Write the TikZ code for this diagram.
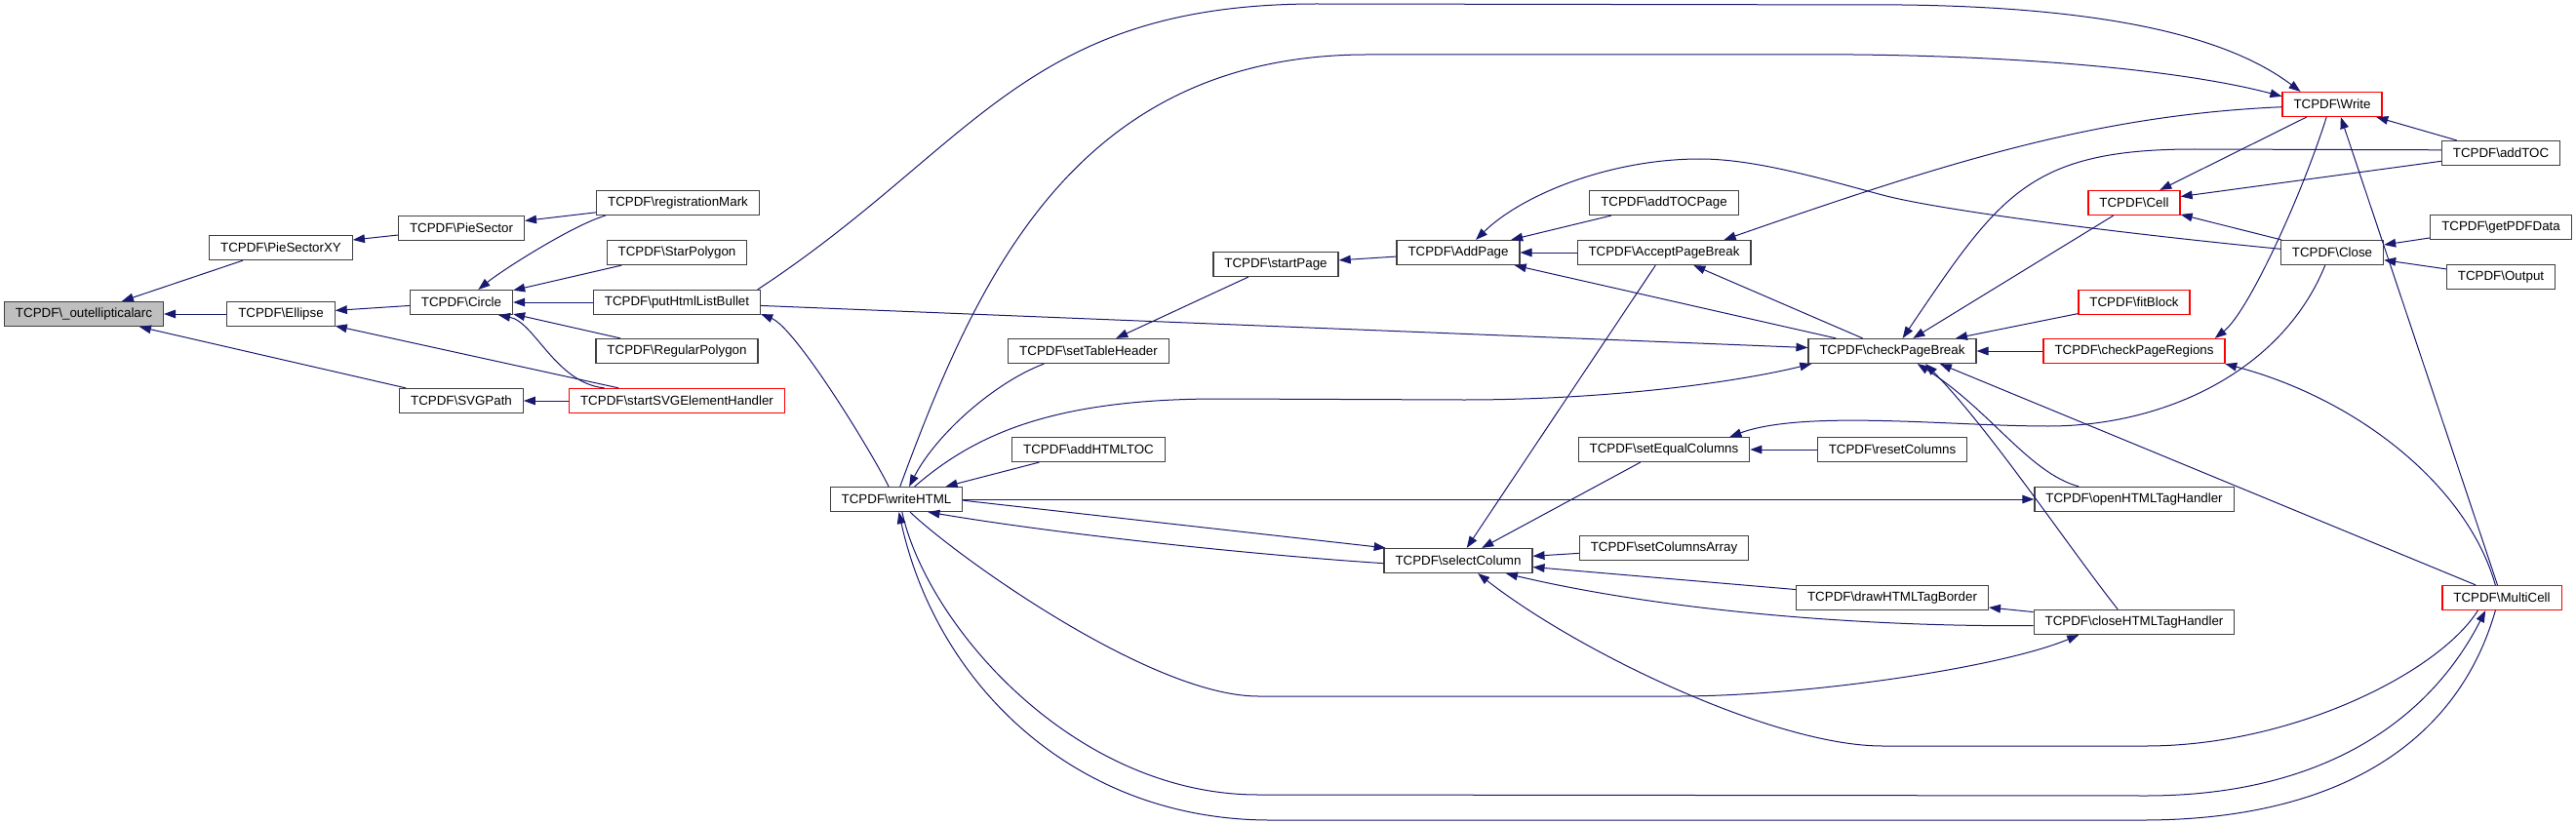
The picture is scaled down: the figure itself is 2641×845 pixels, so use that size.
\documentclass[tikz,border=0pt]{standalone}
\usepackage{fontspec}
\setmainfont{Liberation Sans}
\usepackage{xcolor}
\usetikzlibrary{arrows.meta}

\definecolor{edgeblue}{HTML}{191970}
\definecolor{boxgrey}{HTML}{404040}
\definecolor{rootfill}{HTML}{BFBFBF}
\definecolor{truncred}{HTML}{FF0000}
\newcommand{\tcpdf}{TCPDF\textbackslash}

\begin{document}
\begin{tikzpicture}[x=0.75pt,y=-0.75pt,
    fn/.style={draw=boxgrey, fill=white, line width=0.9pt,
      font=\fontsize{10pt}{12pt}\selectfont,
      inner xsep=8.6pt, inner ysep=0pt, minimum height=18.75pt},
    fnroot/.style={fn, fill=rootfill},
    fntrunc/.style={fn, draw=truncred},
    call/.style={draw=edgeblue, line width=0.75pt,
      -{Triangle[length=9pt,width=6.5pt]}}]
  \fill[white] (0,0) rectangle (2641,845);
  \useasboundingbox (0,0) rectangle (2641,845);

  % rank 0 -- 2
  \node[fnroot] (outell) at (86,322) {\tcpdf\_outellipticalarc};
  \node[fn] (PieSectorXY) at (288,254) {\tcpdf PieSectorXY};
  \node[fn] (Ellipse) at (288,322) {\tcpdf Ellipse};
  \node[fn] (PieSector) at (473,234) {\tcpdf PieSector};
  \node[fn] (Circle) at (473,310) {\tcpdf Circle};
  \node[fn] (SVGPath) at (473,411) {\tcpdf SVGPath};

  % rank 3
  \node[fn] (regMark) at (695,208) {\tcpdf registrationMark};
  \node[fn] (StarPoly) at (694,259) {\tcpdf StarPolygon};
  \node[fn] (putHtml) at (694,310) {\tcpdf putHtmlListBullet};
  \node[fn] (RegPoly) at (694,360) {\tcpdf RegularPolygon};
  \node[fntrunc] (startSVG) at (694,411) {\tcpdf startSVGElementHandler};

  % rank 4 -- 6
  \node[fn] (writeHTML) at (919,512) {\tcpdf writeHTML};
  \node[fn] (setTH) at (1116,360) {\tcpdf setTableHeader};
  \node[fn] (addHTMLTOC) at (1116,461) {\tcpdf addHTMLTOC};
  \node[fn] (startPage) at (1308,271) {\tcpdf startPage};
  \node[fn] (AddPage) at (1495,259) {\tcpdf AddPage};
  \node[fn] (selCol) at (1495,575) {\tcpdf selectColumn};

  % rank 7 -- 8
  \node[fn] (addTOCPage) at (1706,208) {\tcpdf addTOCPage};
  \node[fn] (APB) at (1706,259) {\tcpdf AcceptPageBreak};
  \node[fn] (setEqCol) at (1706,461) {\tcpdf setEqualColumns};
  \node[fn] (setColArr) at (1706,562) {\tcpdf setColumnsArray};
  \node[fn] (cPB) at (1940,360) {\tcpdf checkPageBreak};
  \node[fn] (resetCol) at (1940,461) {\tcpdf resetColumns};
  \node[fn] (drawHTB) at (1940,613) {\tcpdf drawHTMLTagBorder};

  % rank 9 -- 11
  \node[fntrunc] (Cell) at (2188,208) {\tcpdf Cell};
  \node[fntrunc] (fitBlock) at (2188,310) {\tcpdf fitBlock};
  \node[fntrunc] (cPR) at (2188,360) {\tcpdf checkPageRegions};
  \node[fn] (openHTH) at (2188,512) {\tcpdf openHTMLTagHandler};
  \node[fn] (closeHTH) at (2188,638) {\tcpdf closeHTMLTagHandler};
  \node[fntrunc] (Write) at (2391,107) {\tcpdf Write};
  \node[fn] (Close) at (2391,259) {\tcpdf Close};
  \node[fn] (addTOC) at (2564,157) {\tcpdf addTOC};
  \node[fn] (getPDFData) at (2564,233) {\tcpdf getPDFData};
  \node[fn] (Output) at (2564,284) {\tcpdf Output};
  \node[fntrunc] (MultiCell) at (2565,613) {\tcpdf MultiCell};

  % straight calls (caller/callee)
  \foreach \a/\b in {PieSectorXY/outell, Ellipse/outell, SVGPath/outell,
      PieSector/PieSectorXY, Circle/Ellipse, startSVG/Ellipse, startSVG/SVGPath,
      regMark/PieSector, StarPoly/Circle, putHtml/Circle, RegPoly/Circle,
      putHtml/cPB, addHTMLTOC/writeHTML, writeHTML/openHTH, startPage/setTH,
      AddPage/startPage, addTOCPage/AddPage, APB/AddPage, cPB/AddPage, cPB/APB,
      APB/selCol, setEqCol/selCol, setColArr/selCol, drawHTB/selCol,
      resetCol/setEqCol, Cell/cPB, fitBlock/cPB, cPR/cPB, Write/Cell,
      addTOC/Cell, Close/Cell, addTOC/Write, getPDFData/Close, Output/Close,
      closeHTH/drawHTB}
    \draw[call] (\a) -- (\b);

  % bent calls
  \draw[call] (startSVG.170) .. controls (570,393) and (548,330) .. (Circle.-19);
  \draw[call] (regMark.190) .. controls (587,231) and (515,277) .. (Circle.37);
  \draw[call] (writeHTML.121) .. controls (890,457) and (815,336) .. (putHtml.-8);
  \draw[call] (putHtml.9) .. controls (1000,150) and (1050,4) .. (1350,4)
    -- (1950,5) .. controls (2200,8) and (2300,50) .. (Write.158);
  \draw[call] (writeHTML.74) .. controls (1000,290) and (1100,57) .. (1400,56)
    -- (1900,56) .. controls (2100,58) and (2250,75) .. (Write.171);
  \draw[call] (setTH.196) .. controls (1020,392) and (960,445) .. (writeHTML.45);
  \draw[call] (writeHTML.35) .. controls (1000,445) and (1080,409) .. (1250,409)
    -- (1500,410) .. controls (1650,410) and (1780,392) .. (cPB.189);
  \draw[call] (writeHTML.-1) -- (selCol.170);
  \draw[call] (selCol.182) .. controls (1300,570) and (1100,550) .. (writeHTML.338);
  \draw[call] (writeHTML.317) .. controls (980,570) and (1180,714) .. (1290,714)
    -- (1720,714) .. controls (1850,714) and (2050,685) .. (closeHTH.193);
  \draw[call] (writeHTML.294) .. controls (950,640) and (1100,815) .. (1290,815)
    -- (2200,816) .. controls (2380,816) and (2490,740) .. (MultiCell.218);
  \draw[call] (MultiCell.243) .. controls (2520,760) and (2400,840) .. (2200,841)
    -- (1300,841) .. controls (1100,840) and (960,700) .. (writeHTML.281);
  \draw[call] (MultiCell.208) .. controls (2500,690) and (2350,765) .. (2200,765)
    -- (1930,765) .. controls (1820,765) and (1620,670) .. (selCol.327);
  \draw[call] (Close.176) .. controls (2180,240) and (1990,216) .. (1930,200)
    .. controls (1870,184) and (1800,163) .. (1743,163)
    .. controls (1650,163) and (1560,200) .. (AddPage.36);
  \draw[call] (Write.183) .. controls (2150,118) and (2000,165) .. (APB.12);
  \draw[call] (closeHTH.182.5) .. controls (1900,643) and (1700,625) .. (selCol.345);
  \draw[call] (Close.241) .. controls (2340,380) and (2220,437) .. (2100,437)
    .. controls (2000,437) and (1850,420) .. (setEqCol.11);
  \draw[call] (addTOC.177) -- (2250,153) .. controls (2080,153) and (2050,200) .. (cPB.51);
  \draw[call] (openHTH.167) .. controls (2080,485) and (2040,420) .. (cPB.333);
  \draw[call] (closeHTH.142) .. controls (2120,560) and (2040,440) .. (cPB.339);
  \draw[call] (MultiCell.154) -- (cPB.345);
  \draw[call] (Write.246) .. controls (2360,200) and (2305,320) .. (cPR.9);
  \draw[call] (MultiCell.117) .. controls (2530,500) and (2420,410) .. (cPR.352);
  \draw[call] (MultiCell.109) -- (Write.304);
\end{tikzpicture}
\end{document}
